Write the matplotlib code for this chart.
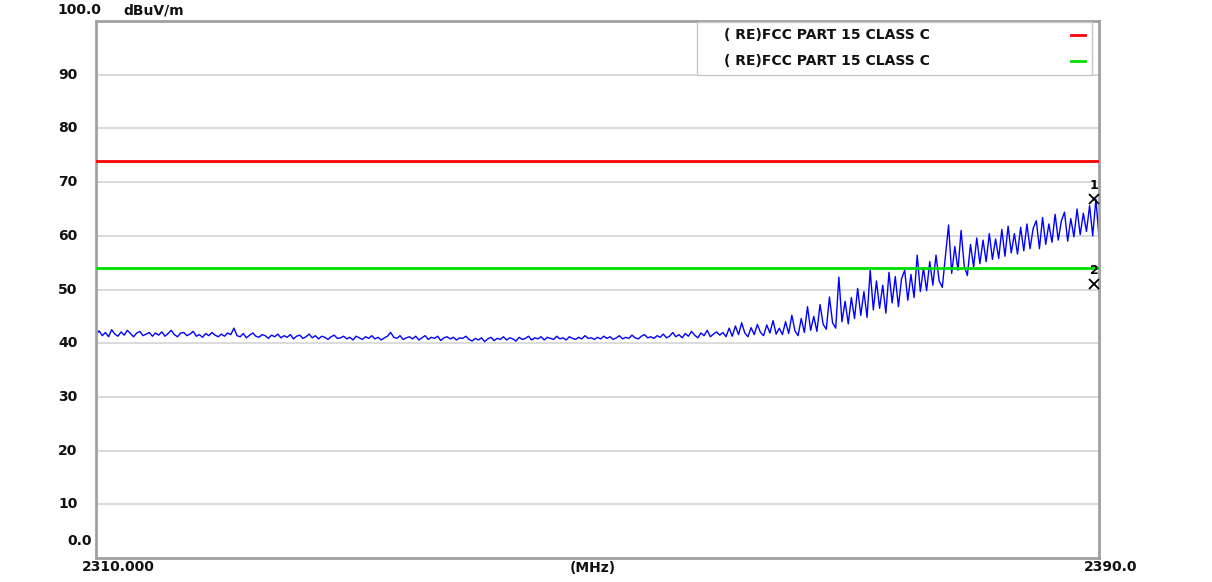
#!/usr/bin/env python
"""Radiated emission scan, 2310-2390 MHz, with FCC part 15 limit lines"""

import matplotlib
matplotlib.use("Agg")
import matplotlib.pyplot as plt
import numpy as np

# frequency axis (MHz) and trace, one value every 0.25 MHz
f_start, f_stop, f_step = 2310.0, 2390.0, 0.25
level = [
    41.6, 42.3, 41.4, 42.0, 41.2, 42.5, 41.7, 41.3, 42.1, 41.5, 42.4, 41.8, 41.2, 41.9, 42.2, 41.4, 41.7, 42.0, 41.3, 41.9,
    41.5, 42.1, 41.3, 41.8, 42.4, 41.6, 41.2, 41.9, 42.0, 41.4, 41.7, 42.2, 41.3, 41.6, 41.1, 41.8, 41.4, 42.0, 41.5, 41.2,
    41.7, 41.3, 41.9, 41.6, 42.8, 41.4, 41.2, 41.8, 41.0, 41.5, 41.9, 41.3, 41.1, 41.6, 41.4, 40.9, 41.5, 41.2, 41.7, 41.0,
    41.4, 41.1, 41.6, 40.8, 41.3, 41.5, 40.9, 41.2, 41.7, 41.0, 41.4, 40.8, 41.3, 41.1, 40.7, 41.2, 41.5, 40.9, 41.0, 41.3,
    40.8, 41.1, 40.6, 41.3, 41.0, 40.7, 41.2, 40.9, 41.4, 40.8, 41.1, 40.6, 41.0, 41.3, 42.0, 41.1, 40.9, 41.4, 40.7, 41.0,
    41.2, 40.8, 41.3, 40.6, 41.0, 41.4, 40.7, 41.1, 40.9, 41.3, 40.5, 41.0, 41.2, 40.8, 41.1, 40.6, 41.0, 40.9, 41.3, 40.7,
    40.4, 40.9, 40.6, 41.0, 40.3, 40.8, 41.1, 40.5, 40.9, 40.7, 41.2, 40.6, 41.0, 40.8, 40.4, 41.1, 40.7, 40.9, 41.3, 40.6,
    41.0, 40.8, 41.2, 40.6, 41.1, 40.9, 40.7, 41.3, 40.8, 41.0, 40.6, 41.2, 40.9, 40.7, 41.1, 40.8, 41.4, 40.9, 41.0, 40.7,
    41.1, 40.8, 41.3, 40.9, 41.2, 40.7, 41.0, 41.4, 40.8, 41.1, 40.9, 41.5, 41.0, 40.8, 41.3, 41.6, 41.0, 41.2, 40.9, 41.4,
    41.1, 41.7, 41.0, 41.3, 42.0, 41.2, 41.6, 41.0, 41.8, 41.3, 42.2, 41.5, 41.0, 41.9, 41.4, 42.4, 41.2, 41.7, 42.1, 41.5,
    42.0, 41.2, 42.8, 41.3, 43.2, 41.6, 43.8, 41.9, 41.2, 42.9, 41.6, 43.5, 42.0, 41.4, 43.4, 41.9, 44.2, 41.7, 42.8, 41.6,
    44.0, 41.8, 45.2, 42.3, 41.4, 44.6, 42.0, 46.8, 42.4, 45.0, 42.2, 47.2, 43.5, 42.6, 48.6, 43.8, 42.8, 52.3, 44.0, 47.8,
    43.6, 48.5, 44.6, 50.2, 45.2, 49.6, 44.8, 53.6, 46.2, 51.6, 46.5, 50.8, 45.6, 53.2, 47.5, 52.4, 46.8, 52.0, 53.6, 48.0,
    52.8, 48.5, 56.4, 49.6, 54.0, 49.8, 55.2, 50.8, 56.4, 51.6, 50.4, 56.2, 62.0, 53.0, 58.0, 53.6, 61.0, 54.4, 52.6, 58.4,
    54.2, 59.6, 54.8, 59.2, 55.2, 60.4, 55.6, 59.4, 55.8, 61.2, 56.2, 61.8, 56.8, 60.4, 56.6, 61.6, 57.2, 62.2, 57.6, 61.4,
    62.8, 57.6, 63.4, 58.4, 62.2, 58.8, 64.0, 59.2, 62.8, 64.4, 59.0, 63.2, 59.8, 65.0, 60.2, 64.2, 60.8, 65.6, 60.0, 66.8,
    59.8,
]

# limit lines (dBuV/m)
limit_names = ["( RE)FCC PART 15 CLASS C", "( RE)FCC PART 15 CLASS C"]
limit_levels = [74.0, 54.0]
limit_colors = ["#ff0000", "#00e000"]

# markers
marker_ids = ["1", "2"]
marker_freq = [2389.6, 2389.6]
marker_level = [66.9, 51.0]

y_ticks = [10, 20, 30, 40, 50, 60, 70, 80, 90]

W, H = 1212, 582


def _main():
    freq = f_start + f_step * np.arange(len(level))

    fig = plt.figure(figsize=(W / 100, H / 100), dpi=100)
    ax = fig.add_axes([96 / W, 1 - 558 / H, (1099 - 96) / W, (558 - 21) / H])
    ax.set_xlim(f_start, f_stop)
    ax.set_ylim(0, 100)

    for t in y_ticks:
        ax.axhline(t, color="#d4d4d4", lw=1.2, zorder=1)
    for s in ax.spines.values():
        s.set_color("#a0a0a0")
        s.set_linewidth(2)
    ax.set_xticks([])
    ax.set_yticks([])

    for lvl, c in zip(limit_levels, limit_colors):
        ax.axhline(lvl, color=c, lw=2, zorder=3)

    ax.plot(freq, level, color="#0000ff", lw=1.0, zorder=2)

    for mid, mf, ml in zip(marker_ids, marker_freq, marker_level):
        ax.plot(mf, ml, marker="x", color="black", ms=7, mew=1.3, zorder=5,
                clip_on=False)
        ax.text(mf, ml + 1.3, mid, ha="center", va="bottom", fontsize=9,
                fontweight="bold", zorder=5)

    # axis labels in figure pixels
    def ftxt(x, y, s, ha="left"):
        fig.text(x / W, 1 - y / H, s, ha=ha, va="center", fontsize=10,
                 fontweight="bold", color="#111111")

    ftxt(57, 10, "100.0")
    ftxt(123, 10, "dBuV/m")
    for t in y_ticks:
        yp = 558 - t * (558 - 21) / 100
        ftxt(58, yp, str(t))
    ftxt(67, 541, "0.0")
    ftxt(118, 567, "2310.000", ha="center")
    ftxt(593, 568, "(MHz)", ha="center")
    ftxt(1111, 567, "2390.0", ha="center")

    # legend box
    box = plt.Rectangle((697 / W, 1 - 75 / H), (1092 - 697) / W, (75 - 22) / H,
                        transform=fig.transFigure, fill=True, fc="white",
                        ec="#c8c8c8", lw=1, zorder=10)
    fig.patches.append(box)
    for i, (name, c) in enumerate(zip(limit_names, limit_colors)):
        yp = 35 + 26 * i
        fig.text(724 / W, 1 - yp / H, name, ha="left", va="center",
                 fontsize=10, fontweight="bold", color="#111111", zorder=11)
        fig.add_artist(plt.Line2D([1071 / W, 1085 / W],
                                  [1 - yp / H, 1 - yp / H],
                                  color=c, lw=2, zorder=11))

    fig.savefig("out.png", dpi=100)
    return 0


if __name__ == "__main__":
    _main()
